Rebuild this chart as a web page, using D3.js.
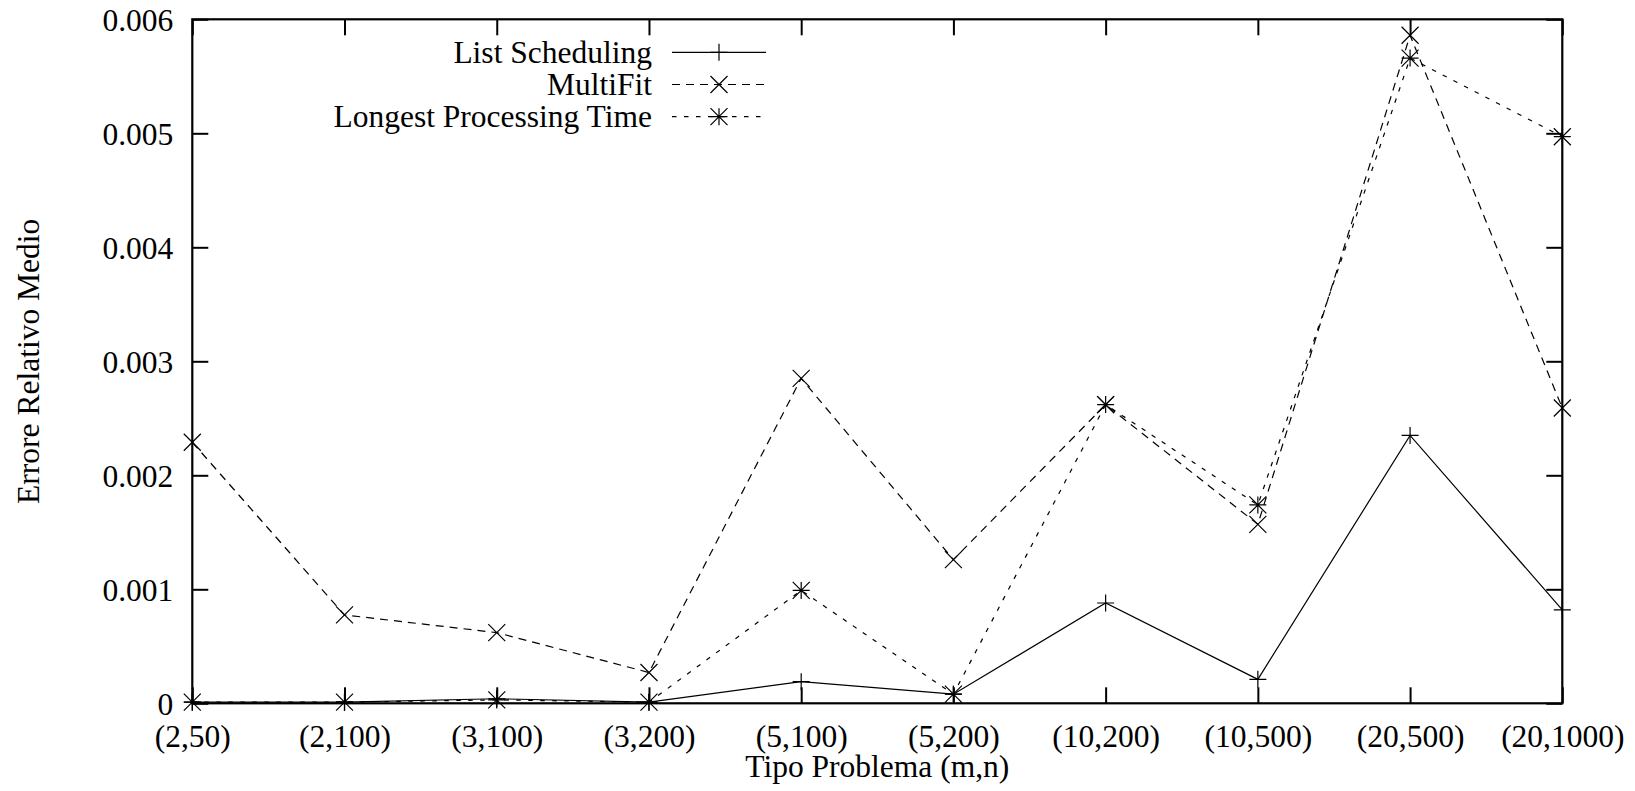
<!DOCTYPE html>
<html>
<head>
<meta charset="utf-8">
<script src="https://cdn.jsdelivr.net/npm/d3@7/dist/d3.min.js"></script>
<style>
  html, body { margin: 0; padding: 0; background: #fff; }
  svg text { font-family: "Liberation Serif", "Times New Roman", serif; fill: #000; }
</style>
</head>
<body>
<svg id="chart" width="1635" height="791"></svg>
<script>
const categories = ["(2,50)", "(2,100)", "(3,100)", "(3,200)", "(5,100)", "(5,200)", "(10,200)", "(10,500)", "(20,500)", "(20,1000)"];
const listScheduling = [0.00001, 0.00001, 0.00004, 0.00001, 0.00019, 0.00008, 0.00088, 0.00021, 0.00235, 0.00082];
const multiFit = [0.00229, 0.000775, 0.00062, 0.00027, 0.00285, 0.00126, 0.00262, 0.00157, 0.00586, 0.00259];
const longestProcessingTime = [0.00001, 0.00001, 0.00003, 0.00001, 0.00099, 0.00008, 0.00262, 0.00174, 0.00566, 0.00497];
const yTicks = [0, 0.001, 0.002, 0.003, 0.004, 0.005, 0.006];
const seriesNames = ["List Scheduling", "MultiFit", "Longest Processing Time"];

(function () {
const svg = d3.select("#chart");
const FS = 31.5;
const mLeft = 192.3, mRight = 1562.3, mTop = 19.3, mBottom = 703.3;
const tickLen = 16;

const x = d3.scalePoint().domain(categories).range([mLeft, mRight]).padding(0);
const y = d3.scaleLinear().domain([0, 0.006]).range([mBottom, mTop]);

const series = [
  { name: seriesNames[0], values: listScheduling, dash: null, marker: "plus" },
  { name: seriesNames[1], values: multiFit, dash: "8,6", marker: "cross" },
  { name: seriesNames[2], values: longestProcessingTime, dash: "4.5,7.5", marker: "star" }
];

function markerPath(cx, cy, type) {
  const h = 8.5, d = 8.5;
  let p = "";
  if (type === "plus" || type === "star") {
    p += `M${cx - h},${cy}L${cx + h},${cy}M${cx},${cy - h}L${cx},${cy + h}`;
  }
  if (type === "cross" || type === "star") {
    p += `M${cx - d},${cy - d}L${cx + d},${cy + d}M${cx - d},${cy + d}L${cx + d},${cy - d}`;
  }
  return p;
}

const axisL = d3.axisLeft(y).tickValues(yTicks).tickSize(-tickLen).tickPadding(19)
  .tickFormat(d => d === 0 ? "0" : d3.format(".3f")(d));
const gL = svg.append("g").attr("transform", `translate(${mLeft},0)`).call(axisL);
const axisR = d3.axisRight(y).tickValues(yTicks).tickSize(-tickLen).tickFormat("");
const gR = svg.append("g").attr("transform", `translate(${mRight},0)`).call(axisR);
const axisB = d3.axisBottom(x).tickSize(-tickLen).tickPadding(21);
const gB = svg.append("g").attr("transform", `translate(0,${mBottom})`).call(axisB);
const axisT = d3.axisTop(x).tickSize(-tickLen).tickFormat("");
const gT = svg.append("g").attr("transform", `translate(0,${mTop})`).call(axisT);

[gL, gR, gB, gT].forEach(g => {
  g.select(".domain").remove();
  g.selectAll(".tick line").attr("stroke", "#000").attr("stroke-width", 2);
  g.selectAll("text").attr("font-size", FS).attr("font-family", "Liberation Serif").attr("fill", "#000");
});
gL.selectAll("text").attr("dy", "0.36em");
gB.selectAll("text").attr("dy", "0.71em");

svg.append("rect").attr("x", mLeft).attr("y", mTop)
  .attr("width", mRight - mLeft).attr("height", mBottom - mTop)
  .attr("fill", "none").attr("stroke", "#000").attr("stroke-width", 2.2);

const line = d3.line().x((d, i) => x(categories[i])).y(d => y(d));
series.forEach(s => {
  svg.append("path").datum(s.values)
    .attr("d", line)
    .attr("fill", "none").attr("stroke", "#000").attr("stroke-width", 1.2)
    .attr("stroke-dasharray", s.dash);
  svg.append("g").selectAll("path").data(s.values).join("path")
    .attr("d", (d, i) => markerPath(x(categories[i]), y(d), s.marker))
    .attr("fill", "none").attr("stroke", "#000").attr("stroke-width", 1.2);
});

const legX1 = 672, legX2 = 766, legMid = 719, legTextX = 652;
series.forEach((s, i) => {
  const ly = 52.3 + i * 32.2;
  svg.append("text").attr("x", legTextX).attr("y", ly + 10.5)
    .attr("text-anchor", "end").attr("font-size", FS).text(s.name);
  svg.append("line").attr("x1", legX1).attr("x2", legX2).attr("y1", ly).attr("y2", ly)
    .attr("stroke", "#000").attr("stroke-width", 1.2).attr("stroke-dasharray", s.dash);
  svg.append("path").attr("d", markerPath(legMid, ly, s.marker))
    .attr("fill", "none").attr("stroke", "#000").attr("stroke-width", 1.2);
});

svg.append("text").attr("x", (mLeft + mRight) / 2).attr("y", 776.7)
  .attr("text-anchor", "middle").attr("font-size", FS).text("Tipo Problema (m,n)");
svg.append("text").attr("transform", `translate(38.5,${(mTop + mBottom) / 2}) rotate(-90)`)
  .attr("text-anchor", "middle").attr("font-size", FS).text("Errore Relativo Medio");
})();
</script>
</body>
</html>
